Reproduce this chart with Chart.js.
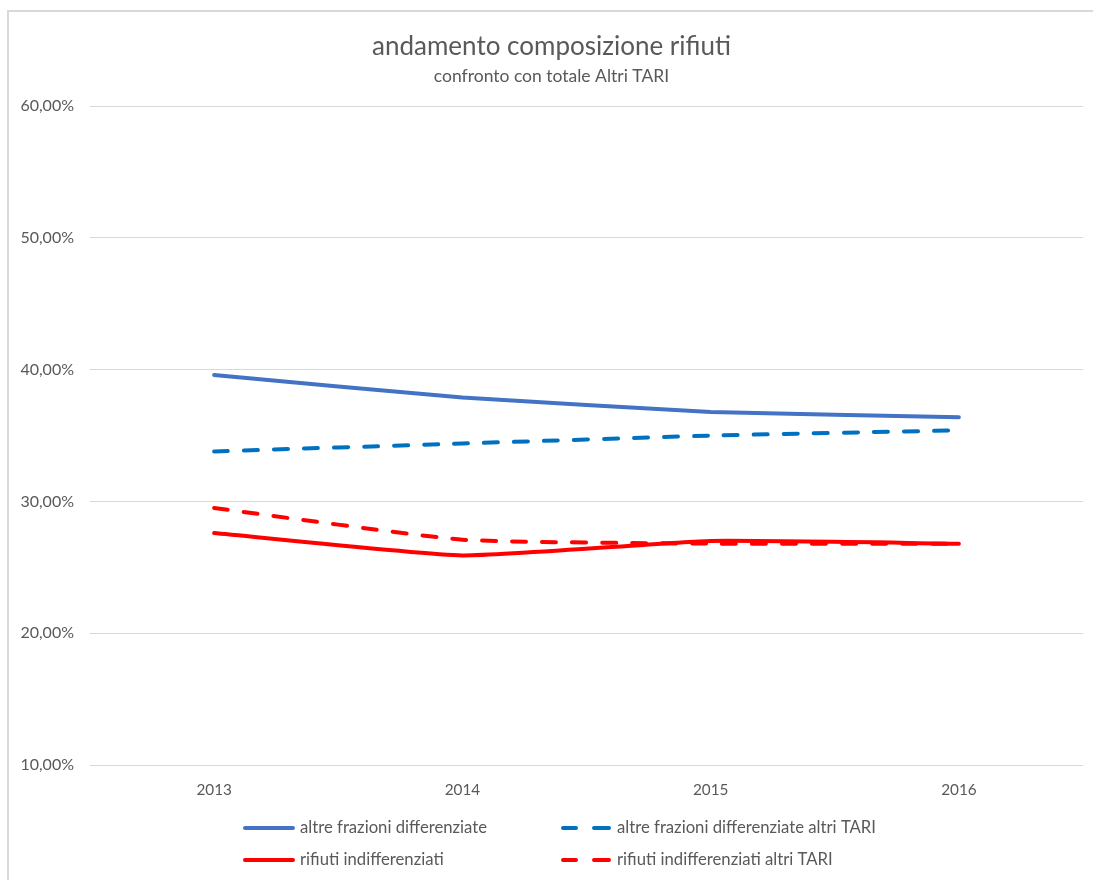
<!DOCTYPE html>
<html>
<head>
<meta charset="utf-8">
<script src="https://cdn.jsdelivr.net/npm/chart.js@4/dist/chart.umd.min.js"></script>
<style>
  html, body { margin: 0; padding: 0; background: #fff; }
  #wrap { width: 1093px; height: 880px; position: relative; }
</style>
</head>
<body>
<div id="wrap"><canvas id="grafico" width="1093" height="880"></canvas></div>
<script>
const anni = ['2013', '2014', '2015', '2016'];
const altre_frazioni = [39.6, 37.9, 36.8, 36.4];
const altre_frazioni_tari = [33.8, 34.4, 35.0, 35.4];
const indifferenziati = [27.6, 25.9, 27.0, 26.8];
const indifferenziati_tari = [29.5, 27.1, 26.8, 26.8];
const tick_y = [10, 20, 30, 40, 50, 60];

const FONT = 'Lato, "Open Sans", sans-serif';
const GRIGIO = '#595959';

function formatta(v) {
    return v.toFixed(2).replace('.', ',') + '%';
}

// cornice grigia come nel grafico di Excel
const cornice = {
    id: 'cornice',
    beforeDraw(chart) {
        const ctx = chart.ctx;
        ctx.save();
        ctx.fillStyle = '#D9D9D9';
        ctx.fillRect(7, 10, 2, chart.height - 10);
        ctx.fillRect(7, 10, chart.width - 7, 2);
        ctx.restore();
    }
};

// legenda su due colonne e due righe
const legenda = {
    id: 'legenda',
    afterDraw(chart) {
        const ctx = chart.ctx;
        const colonne = [243, 561];
        const righe = [828, 860];
        ctx.save();
        ctx.font = '16.7px ' + FONT;
        ctx.textBaseline = 'middle';
        chart.data.datasets.forEach((ds, i) => {
            const x = colonne[i % 2];
            const y = righe[Math.floor(i / 2)];
            ctx.strokeStyle = ds.borderColor;
            ctx.lineWidth = 4;
            ctx.lineCap = 'round';
            ctx.beginPath();
            let xt;
            if (ds.borderDash && ds.borderDash.length) {
                ctx.moveTo(x + 2, y); ctx.lineTo(x + 15, y);
                ctx.moveTo(x + 33, y); ctx.lineTo(x + 48, y);
                xt = x + 56;
            } else {
                ctx.moveTo(x + 2, y); ctx.lineTo(x + 50, y);
                xt = x + 57;
            }
            ctx.stroke();
            ctx.fillStyle = GRIGIO;
            ctx.fillText(ds.label, xt, y);
        });
        ctx.restore();
    }
};

const serie = [
    { label: 'altre frazioni differenziate', data: altre_frazioni, borderColor: '#4472C4', borderDash: [] },
    { label: 'altre frazioni differenziate altri TARI', data: altre_frazioni_tari, borderColor: '#0070C0', borderDash: [14, 16] },
    { label: 'rifiuti indifferenziati', data: indifferenziati, borderColor: '#FF0000', borderDash: [] },
    { label: 'rifiuti indifferenziati altri TARI', data: indifferenziati_tari, borderColor: '#FF0000', borderDash: [14, 16] }
];

new Chart(document.getElementById('grafico'), {
    type: 'line',
    data: {
        labels: anni,
        datasets: serie.map(s => ({
            label: s.label,
            data: s.data,
            borderColor: s.borderColor,
            backgroundColor: s.borderColor,
            borderDash: s.borderDash,
            borderWidth: 4,
            borderCapStyle: 'round',
            borderJoinStyle: 'round',
            pointRadius: 0,
            tension: 0.15,
            fill: false
        }))
    },
    options: {
        responsive: false,
        animation: false,
        layout: { padding: { top: 0, right: 10, bottom: 0, left: 20 } },
        plugins: {
            legend: { display: false },
            tooltip: { enabled: false },
            title: {
                display: true,
                text: 'andamento composizione rifiuti',
                color: GRIGIO,
                font: { family: FONT, size: 26, weight: 'normal', lineHeight: 1.2 },
                padding: { top: 31, bottom: 1 }
            },
            subtitle: {
                display: true,
                text: 'confronto con totale Altri TARI',
                color: GRIGIO,
                font: { family: FONT, size: 17.5, weight: 'normal', lineHeight: 1.2 },
                padding: { top: 3, bottom: 19 }
            }
        },
        scales: {
            x: {
                offset: true,
                grid: { display: false, drawTicks: false },
                border: { display: false },
                ticks: { color: GRIGIO, font: { family: FONT, size: 15.3 }, padding: 16 },
                afterFit(scale) { scale.height = 115; }
            },
            y: {
                min: 10,
                max: 60,
                afterBuildTicks(scale) { scale.ticks = tick_y.map(v => ({ value: v })); },
                grid: { color: '#D9D9D9', lineWidth: 1, drawTicks: false },
                border: { display: false },
                ticks: {
                    color: GRIGIO,
                    font: { family: FONT, size: 16 },
                    padding: 16,
                    callback: v => formatta(v)
                },
                afterFit(scale) { scale.width = 70; }
            }
        }
    },
    plugins: [cornice, legenda]
});
</script>
</body>
</html>
